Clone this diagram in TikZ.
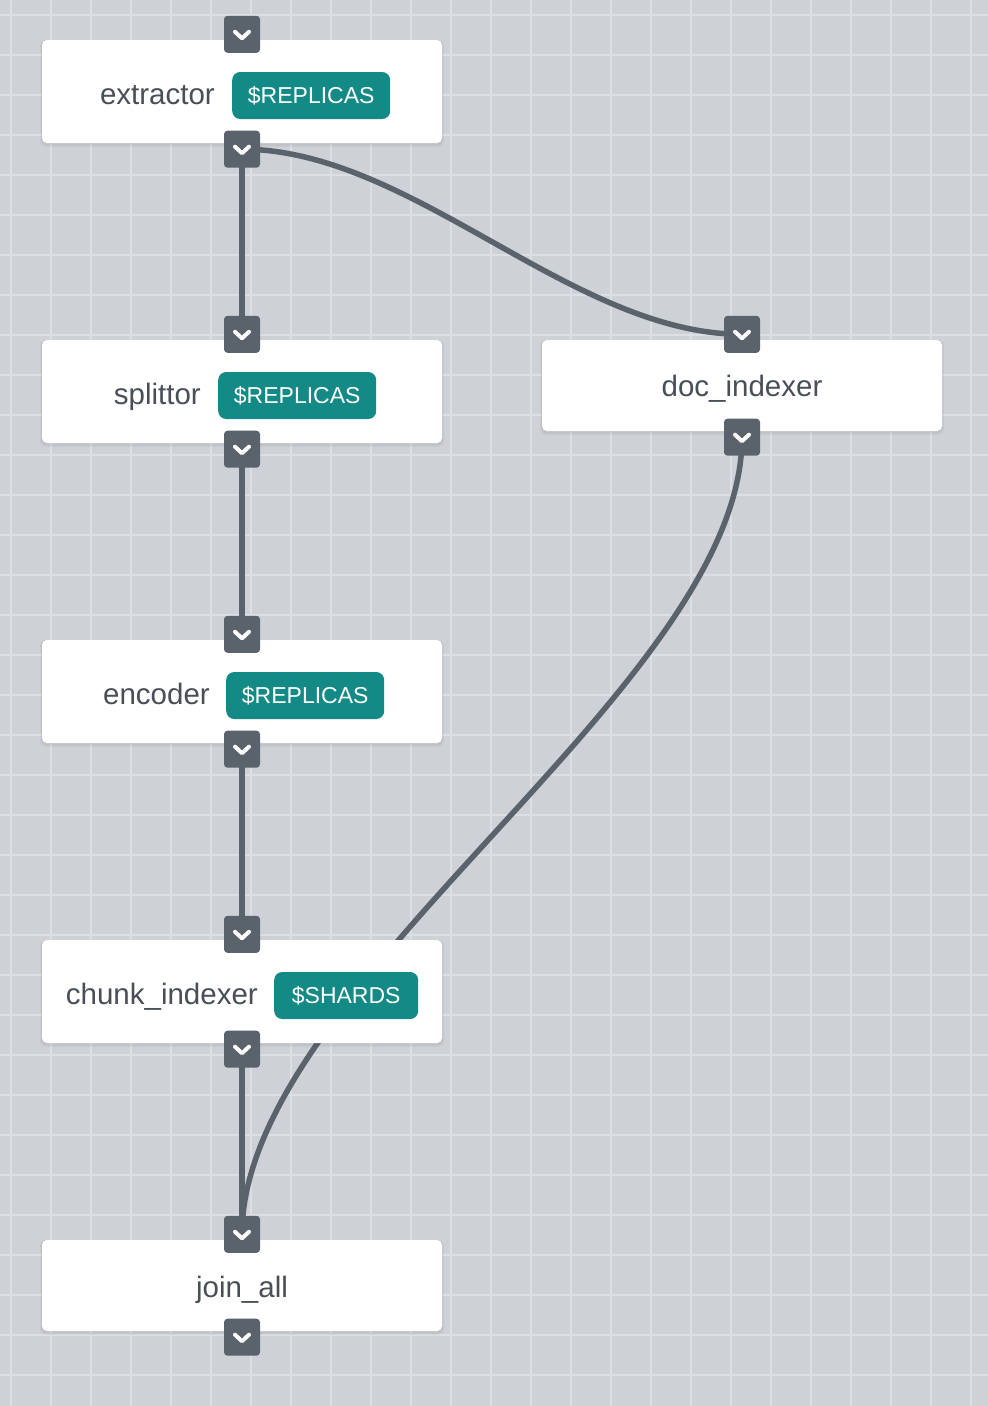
\documentclass[tikz,border=0pt]{standalone}
\usepackage{fontspec}
\setmainfont{Liberation Sans}
\usetikzlibrary{positioning}
\definecolor{canvas}{HTML}{CED1D6}
\definecolor{gridc}{HTML}{DCDFE3}
\definecolor{portc}{HTML}{5A626C}
\definecolor{tealc}{HTML}{138A86}
\definecolor{labelc}{HTML}{494E57}
\pgfdeclarelayer{bg}
\pgfdeclarelayer{edges}
\pgfsetlayers{bg,edges,main}
\tikzset{
  box/.style={rectangle, fill=white, rounded corners=5pt, minimum width=400pt, inner sep=0pt},
  boxshadow/.style={fill=black, opacity=0.035, rounded corners=6pt},
  badge/.style={rectangle, fill=tealc, rounded corners=8pt, text=white, minimum height=47pt,
    inner xsep=0pt, inner ysep=0pt, text height=16.5pt, text depth=0pt,
    font=\fontsize{23}{27}\selectfont},
  lbl/.style={text=labelc, inner sep=0pt, font=\fontsize{29.5}{34}\selectfont},
  port/.style={rectangle, fill=portc, rounded corners=3.5pt, minimum width=36pt, minimum height=37pt, inner sep=0pt},
  chev/.style={draw=white, line width=4pt, line cap=round, line join=round},
  link/.style={draw=portc, line width=5.5pt},
  gridline/.style={draw=gridc, line width=2pt}
}
\begin{document}
\begin{tikzpicture}[x=1pt, y=-1pt]
  \useasboundingbox (0,0) rectangle (988,1406);
  % canvas and grid
  \begin{pgfonlayer}{bg}
    \fill[canvas] (0,0) rectangle (988,1406);
    \foreach \x in {11,51,...,988} \draw[gridline] (\x,0) -- (\x,1406);
    \foreach \y in {15,55,...,1406} \draw[gridline] (0,\y) -- (988,\y);
  \end{pgfonlayer}

  % soft shadows under the cards
  \foreach \l/\t/\r/\b in {42/40/442/143, 42/340/442/443, 42/640/442/743, 42/940/442/1043, 42/1240/442/1331, 542/340/942/431} {
    \fill[boxshadow] (\l-2,\t) rectangle (\r+2,\b+4);
    \fill[boxshadow] (\l-1,\t) rectangle (\r+1,\b+2.5);
  }

  % cards
  \node[box, minimum height=103pt] (ext) at (242,91.5) {};
  \node[box, minimum height=103pt] (spl) at (242,391.5) {};
  \node[box, minimum height=103pt] (enc) at (242,691.5) {};
  \node[box, minimum height=103pt] (chk) at (242,991.5) {};
  \node[box, minimum height=91pt] (join) at (242,1285.5) {};
  \node[box, minimum height=91pt] (doc) at (742,385.5) {};

  % badges and labels
  \node[badge, minimum width=158pt, anchor=west] (extb) at (232,95.5) {\$REPLICAS};
  \node[lbl, anchor=base east] (extl) at (215,104) {extractor};
  \node[badge, minimum width=158pt, anchor=west] (splb) at (218,395.5) {\$REPLICAS};
  \node[lbl, anchor=base east] (spll) at (201,404) {splittor};
  \node[badge, minimum width=158pt, anchor=west] (encb) at (226,695.5) {\$REPLICAS};
  \node[lbl, anchor=base east] (encl) at (210,704) {encoder};
  \node[badge, minimum width=144pt, anchor=west] (chkb) at (274,995.5) {\$SHARDS};
  \node[lbl, anchor=base east] (chkl) at (258,1004) {chunk\_indexer};
  \node[lbl, anchor=base] (docl) at (742,396) {doc\_indexer};
  \node[lbl, anchor=base] (joinl) at (242,1297) {join\_all};

  % ports
  \foreach \n in {ext,spl,enc,chk,join,doc} {
    \node[port] (\n-in) at ([yshift=5.5pt]\n.north) {};
    \node[port] (\n-out) at ([yshift=-6pt]\n.south) {};
  }
  \foreach \p in {ext-in,ext-out,spl-in,spl-out,enc-in,enc-out,chk-in,chk-out,join-in,join-out,doc-in,doc-out}
    \draw[chev] ([shift={(-7,-2.5)}]\p.center) -- ([shift={(0,4)}]\p.center) -- ([shift={(7,-2.5)}]\p.center);

  % connections
  \begin{pgfonlayer}{edges}
    \draw[link] (ext-out.center) -- (spl-in.center);
    \draw[link] (spl-out.center) -- (enc-in.center);
    \draw[link] (enc-out.center) -- (chk-in.center);
    \draw[link] (chk-out.center) -- (join-in.center);
    \draw[link] (ext-out.center) .. controls +(170,0) and +(-170,0) .. (doc-in.center);
    \draw[link] (doc-out.center) .. controls +(0,250) and +(0,-250) .. (join-in.center);
  \end{pgfonlayer}
\end{tikzpicture}
\end{document}
